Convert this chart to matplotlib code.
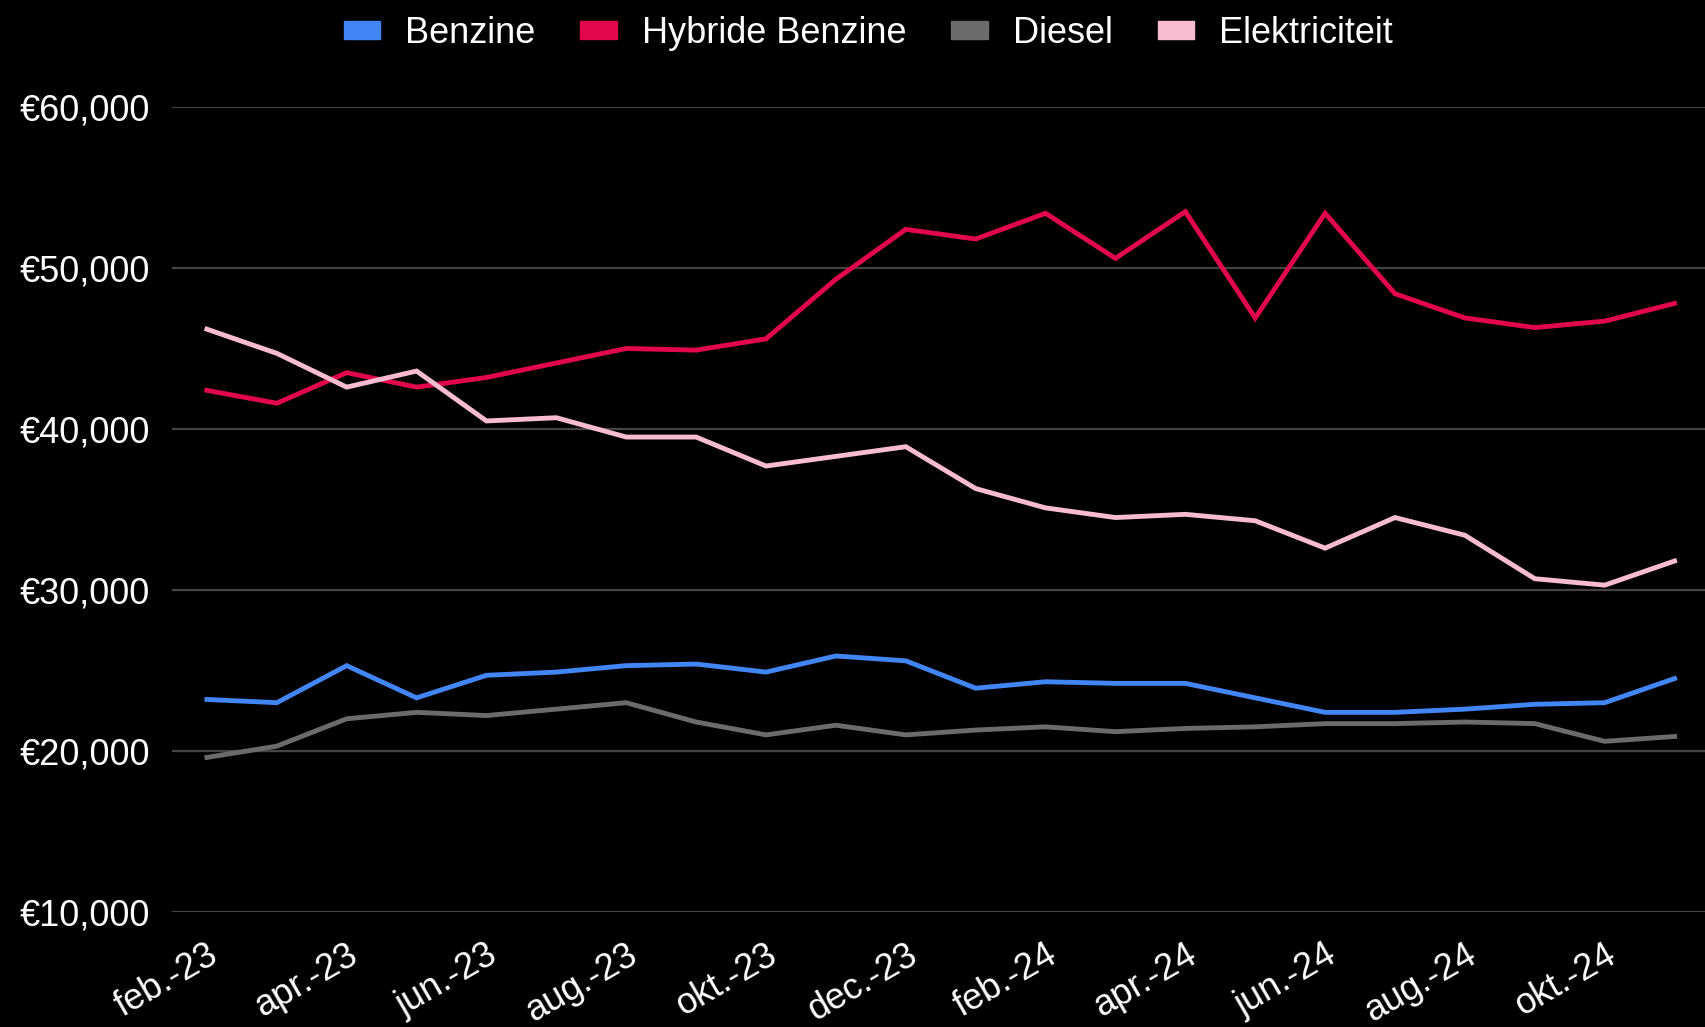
"""
Average price per fuel type, feb 2023 - nov 2024 (dark theme line chart).
"""
import matplotlib
matplotlib.use('Agg')
import matplotlib.pyplot as plt
import matplotlib.patches as mpatches
from matplotlib.ticker import FuncFormatter

# Data
months = ['feb.-23', 'mrt.-23', 'apr.-23', 'mei-23', 'jun.-23', 'jul.-23', 'aug.-23',
          'sep.-23', 'okt.-23', 'nov.-23', 'dec.-23', 'jan.-24', 'feb.-24', 'mrt.-24',
          'apr.-24', 'mei-24', 'jun.-24', 'jul.-24', 'aug.-24', 'sep.-24', 'okt.-24',
          'nov.-24']

benzine = [23200, 23000, 25300, 23300, 24700, 24900, 25300, 25400, 24900, 25900, 25600,
           23900, 24300, 24200, 24200, 23300, 22400, 22400, 22600, 22900, 23000, 24500]
hybride = [42400, 41600, 43500, 42600, 43200, 44100, 45000, 44900, 45600, 49300, 52400,
           51800, 53400, 50600, 53500, 46900, 53400, 48400, 46900, 46300, 46700, 47800]
diesel = [19600, 20300, 22000, 22400, 22200, 22600, 23000, 21800, 21000, 21600, 21000,
          21300, 21500, 21200, 21400, 21500, 21700, 21700, 21800, 21700, 20600, 20900]
elektriciteit = [46200, 44700, 42600, 43600, 40500, 40700, 39500, 39500, 37700, 38300, 38900,
                 36300, 35100, 34500, 34700, 34300, 32600, 34500, 33400, 30700, 30300, 31800]

series_names = ['Benzine', 'Hybride Benzine', 'Diesel', 'Elektriciteit']
colors = ['#4285F4', '#E2074C', '#6B6B6B', '#F8BBD0']

plt.rcParams['font.family'] = ['Liberation Sans', 'DejaVu Sans']
FS = 26

fig = plt.figure(figsize=(17.06, 10.27), dpi=100, facecolor='black')
ax = fig.add_axes([0.1008, 0.112, 0.8992, 0.7838])
ax.set_facecolor('black')

x = list(range(len(months)))
for vals, name, col in zip([benzine, hybride, diesel, elektriciteit], series_names, colors):
    ax.plot(x, vals, color=col, linewidth=3.5, label=name, solid_joinstyle='miter')

ax.set_ylim(10000, 60000)
ax.set_xlim(-0.5, 21.45)
ax.set_yticks([10000, 20000, 30000, 40000, 50000, 60000])
ax.yaxis.set_major_formatter(FuncFormatter(lambda v, p: '€{:,.0f}'.format(v)))
ax.grid(axis='y', color='#444444', linewidth=1.6)
ax.set_axisbelow(True)

ax.set_xticks(x[::2])
ax.set_xticklabels(months[::2], rotation=30, ha='right', rotation_mode='anchor')

for s in ax.spines.values():
    s.set_visible(False)
ax.tick_params(axis='both', length=0, colors='white', labelsize=FS)
ax.tick_params(axis='y', pad=16)
ax.tick_params(axis='x', pad=18)

handles = [mpatches.Patch(color=c, label=n) for c, n in zip(colors, series_names)]
fig.legend(handles=handles, loc='upper center', bbox_to_anchor=(0.509, 1.016), ncol=4,
           frameon=False, fontsize=FS, labelcolor='white', handlelength=1.0,
           handleheight=0.4, handletextpad=0.7, columnspacing=1.25)

plt.savefig('out.png', dpi=100, facecolor='black')
plt.close()
